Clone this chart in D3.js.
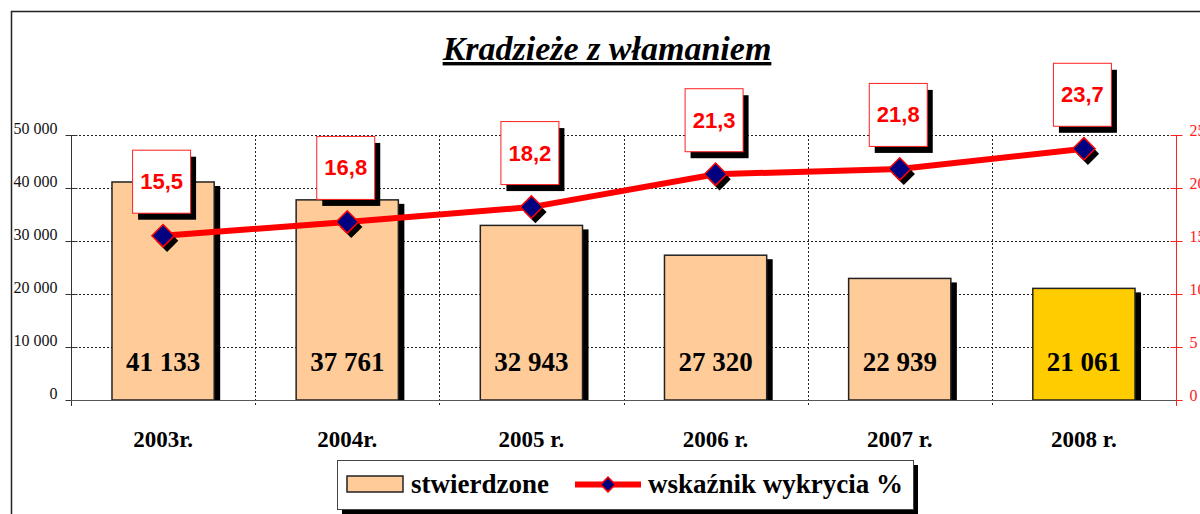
<!DOCTYPE html>
<html>
<head>
<meta charset="utf-8">
<script src="https://cdn.jsdelivr.net/npm/d3@7"></script>
<style>
  body { margin: 0; background: #fff; }
  svg { display: block; }
</style>
</head>
<body>
<div id="chart"></div>
<script>
// Data
var years = ["2003r.", "2004r.", "2005 r.", "2006 r.", "2007 r.", "2008 r."];
var stwierdzone = [41133, 37761, 32943, 27320, 22939, 21061];
var wskaznik = [15.5, 16.8, 18.2, 21.3, 21.8, 23.7];
var barColors = ["#FFCC99", "#FFCC99", "#FFCC99", "#FFCC99", "#FFCC99", "#FFCC00"];
var leftTicks = [0, 10000, 20000, 30000, 40000, 50000];
var rightTicks = [0, 5, 10, 15, 20, 25];

var width = 1200, height = 514;
var plotLeft = 71, plotRight = 1176, plotTop = 135, plotBottom = 400;

var serif = "'Liberation Serif', 'Times New Roman', serif";
var sans = "'Liberation Sans', Arial, sans-serif";

var pl = d3.formatLocale({ decimal: ",", thousands: " ", grouping: [3], currency: ["", ""] });
var fmtInt = pl.format(",d");
var fmtPct = pl.format(",.1f");

var svg = d3.select("#chart").append("svg")
    .attr("width", width)
    .attr("height", height);

// outer frame
svg.append("path")
    .attr("d", "M11.5,514 V11.5 H1200")
    .attr("fill", "none")
    .attr("stroke", "#222")
    .attr("stroke-width", 1.5);

var x = d3.scaleBand().domain(years).range([plotLeft, plotRight]).padding(0);
var yL = d3.scaleLinear().domain([0, 50000]).range([plotBottom, plotTop]);
var yR = d3.scaleLinear().domain([0, 25]).range([plotBottom, plotTop]);

// horizontal grid
svg.append("g").selectAll("line")
    .data(leftTicks.slice(1))
    .enter().append("line")
    .attr("x1", plotLeft).attr("x2", plotRight)
    .attr("y1", function(d) { return Math.round(yL(d)) + 0.5; })
    .attr("y2", function(d) { return Math.round(yL(d)) + 0.5; })
    .attr("stroke", "#222")
    .attr("stroke-dasharray", "2,2");

// vertical grid at category boundaries
svg.append("g").selectAll("line")
    .data(years.slice(1))
    .enter().append("line")
    .attr("x1", function(d) { return Math.round(x(d)) + 0.5; })
    .attr("x2", function(d) { return Math.round(x(d)) + 0.5; })
    .attr("y1", plotTop).attr("y2", plotBottom + 7)
    .attr("stroke", "#222")
    .attr("stroke-dasharray", "2,2");

// left axis
var axL = svg.append("g").attr("transform", "translate(" + (plotLeft + 0.5) + ",0)");
axL.append("line").attr("y1", plotTop).attr("y2", plotBottom + 6).attr("stroke", "#333");
axL.selectAll("line.tk").data(leftTicks).enter().append("line")
    .attr("class", "tk")
    .attr("x1", -6).attr("x2", 6)
    .attr("y1", function(d) { return Math.round(yL(d)) + 0.5; })
    .attr("y2", function(d) { return Math.round(yL(d)) + 0.5; })
    .attr("stroke", "#333");
axL.selectAll("text").data(leftTicks).enter().append("text")
    .attr("x", -14)
    .attr("y", function(d) { return yL(d) - 1; })
    .attr("text-anchor", "end")
    .style("font-family", serif)
    .style("font-size", "16px")
    .attr("fill", "#111")
    .text(function(d) { return fmtInt(d); });

// right axis
var axR = svg.append("g").attr("transform", "translate(" + (plotRight + 0.5) + ",0)");
axR.append("line").attr("y1", plotTop).attr("y2", plotBottom + 6).attr("stroke", "#ff2020");
axR.selectAll("line.tk").data(rightTicks).enter().append("line")
    .attr("class", "tk")
    .attr("x1", -6).attr("x2", 6)
    .attr("y1", function(d) { return Math.round(yR(d)) + 0.5; })
    .attr("y2", function(d) { return Math.round(yR(d)) + 0.5; })
    .attr("stroke", "#ff2020");
axR.selectAll("text").data(rightTicks).enter().append("text")
    .attr("x", 13)
    .attr("y", function(d) { return yR(d) + 1; })
    .style("font-family", serif)
    .style("font-size", "16px")
    .attr("fill", "#ff2020")
    .text(function(d) { return d; });

// bars
var bw = x.bandwidth() * 0.555;
var bars = svg.append("g").selectAll("g")
    .data(stwierdzone)
    .enter().append("g");

bars.append("rect")
    .attr("x", function(d, i) { return x(years[i]) + (x.bandwidth() - bw) / 2 + 6; })
    .attr("y", function(d) { return yL(d) + 4; })
    .attr("width", bw)
    .attr("height", function(d) { return plotBottom - yL(d) - 4; })
    .attr("fill", "#000");

bars.append("rect")
    .attr("x", function(d, i) { return x(years[i]) + (x.bandwidth() - bw) / 2; })
    .attr("y", function(d) { return yL(d); })
    .attr("width", bw)
    .attr("height", function(d) { return plotBottom - yL(d); })
    .attr("fill", function(d, i) { return barColors[i]; })
    .attr("stroke", "#222")
    .attr("stroke-width", 1.5);

// baseline
svg.append("line")
    .attr("x1", plotLeft).attr("x2", plotRight)
    .attr("y1", plotBottom + 0.5).attr("y2", plotBottom + 0.5)
    .attr("stroke", "#555");

// bar value labels
bars.append("text")
    .attr("x", function(d, i) { return x(years[i]) + x.bandwidth() / 2; })
    .attr("y", plotBottom - 29)
    .attr("text-anchor", "middle")
    .style("font-family", serif)
    .style("font-weight", "bold")
    .style("font-size", "27px")
    .attr("fill", "#000")
    .text(function(d) { return fmtInt(d); });

// line
var cx = function(i) { return x(years[i]) + x.bandwidth() / 2; };
var line = d3.line()
    .x(function(d, i) { return cx(i); })
    .y(function(d) { return yR(d); });

svg.append("path")
    .datum(wskaznik)
    .attr("d", line)
    .attr("fill", "none")
    .attr("stroke", "#ff0000")
    .attr("stroke-width", 6);

// markers
var diamond = d3.symbol().type(d3.symbolSquare).size(250);
var mk = svg.append("g").selectAll("g")
    .data(wskaznik)
    .enter().append("g");
mk.append("path")
    .attr("d", diamond)
    .attr("transform", function(d, i) { return "translate(" + (cx(i) + 4) + "," + (yR(d) + 5) + ") rotate(45)"; })
    .attr("fill", "#000");
mk.append("path")
    .attr("d", diamond)
    .attr("transform", function(d, i) { return "translate(" + cx(i) + "," + yR(d) + ") rotate(45)"; })
    .attr("fill", "#000080")
    .attr("stroke", "#ff0000")
    .attr("stroke-width", 1.5);

// value label boxes
var boxW = 58, boxH = 63, gap = 23;
var lb = svg.append("g").selectAll("g")
    .data(wskaznik)
    .enter().append("g")
    .attr("transform", function(d, i) { return "translate(" + (cx(i) - boxW / 2 - 2) + "," + (yR(d) - gap - boxH) + ")"; });
lb.append("rect")
    .attr("x", 6).attr("y", 7)
    .attr("width", boxW).attr("height", boxH)
    .attr("fill", "#000");
lb.append("rect")
    .attr("x", 0.5).attr("y", 0.5)
    .attr("width", boxW).attr("height", boxH)
    .attr("fill", "#fff")
    .attr("stroke", "#ff2020");
lb.append("text")
    .attr("x", boxW / 2 + 0.5)
    .attr("y", boxH / 2 + 8)
    .attr("text-anchor", "middle")
    .style("font-family", sans)
    .style("font-weight", "bold")
    .style("font-size", "22px")
    .attr("fill", "#ff0000")
    .text(function(d) { return fmtPct(d); });

// x labels
svg.append("g").selectAll("text")
    .data(years)
    .enter().append("text")
    .attr("x", function(d) { return x(d) + x.bandwidth() / 2; })
    .attr("y", 447)
    .attr("text-anchor", "middle")
    .style("font-family", serif)
    .style("font-weight", "bold")
    .style("font-size", "23px")
    .attr("fill", "#000")
    .text(function(d) { return d; });

// title
svg.append("text")
    .attr("x", 607)
    .attr("y", 60)
    .attr("text-anchor", "middle")
    .style("font-family", serif)
    .style("font-weight", "bold")
    .style("font-style", "italic")
    .style("font-size", "34px")
    .style("text-decoration", "underline")
    .attr("fill", "#000")
    .text("Kradzieże z włamaniem");

// legend
var lg = svg.append("g").attr("transform", "translate(337,460)");
lg.append("rect").attr("x", 5).attr("y", 5).attr("width", 576).attr("height", 49).attr("fill", "#000");
lg.append("rect").attr("x", 0.5).attr("y", 0.5).attr("width", 576).attr("height", 49)
    .attr("fill", "#fff").attr("stroke", "#444");
lg.append("rect").attr("x", 10).attr("y", 16).attr("width", 56).attr("height", 16)
    .attr("fill", "#FFCC99").attr("stroke", "#222").attr("stroke-width", 1.5);
lg.append("text").attr("x", 74).attr("y", 33)
    .style("font-family", serif).style("font-weight", "bold").style("font-size", "27px")
    .text("stwierdzone");
lg.append("line").attr("x1", 238).attr("x2", 304).attr("y1", 24.5).attr("y2", 24.5)
    .attr("stroke", "#ff0000").attr("stroke-width", 6);
lg.append("path").attr("d", d3.symbol().type(d3.symbolSquare).size(110))
    .attr("transform", "translate(271,24.5) rotate(45)")
    .attr("fill", "#000080").attr("stroke", "#ff0000").attr("stroke-width", 1.5);
lg.append("text").attr("x", 311).attr("y", 33)
    .style("font-family", serif).style("font-weight", "bold").style("font-size", "27px")
    .text("wskaźnik wykrycia %");
</script>
</body>
</html>
